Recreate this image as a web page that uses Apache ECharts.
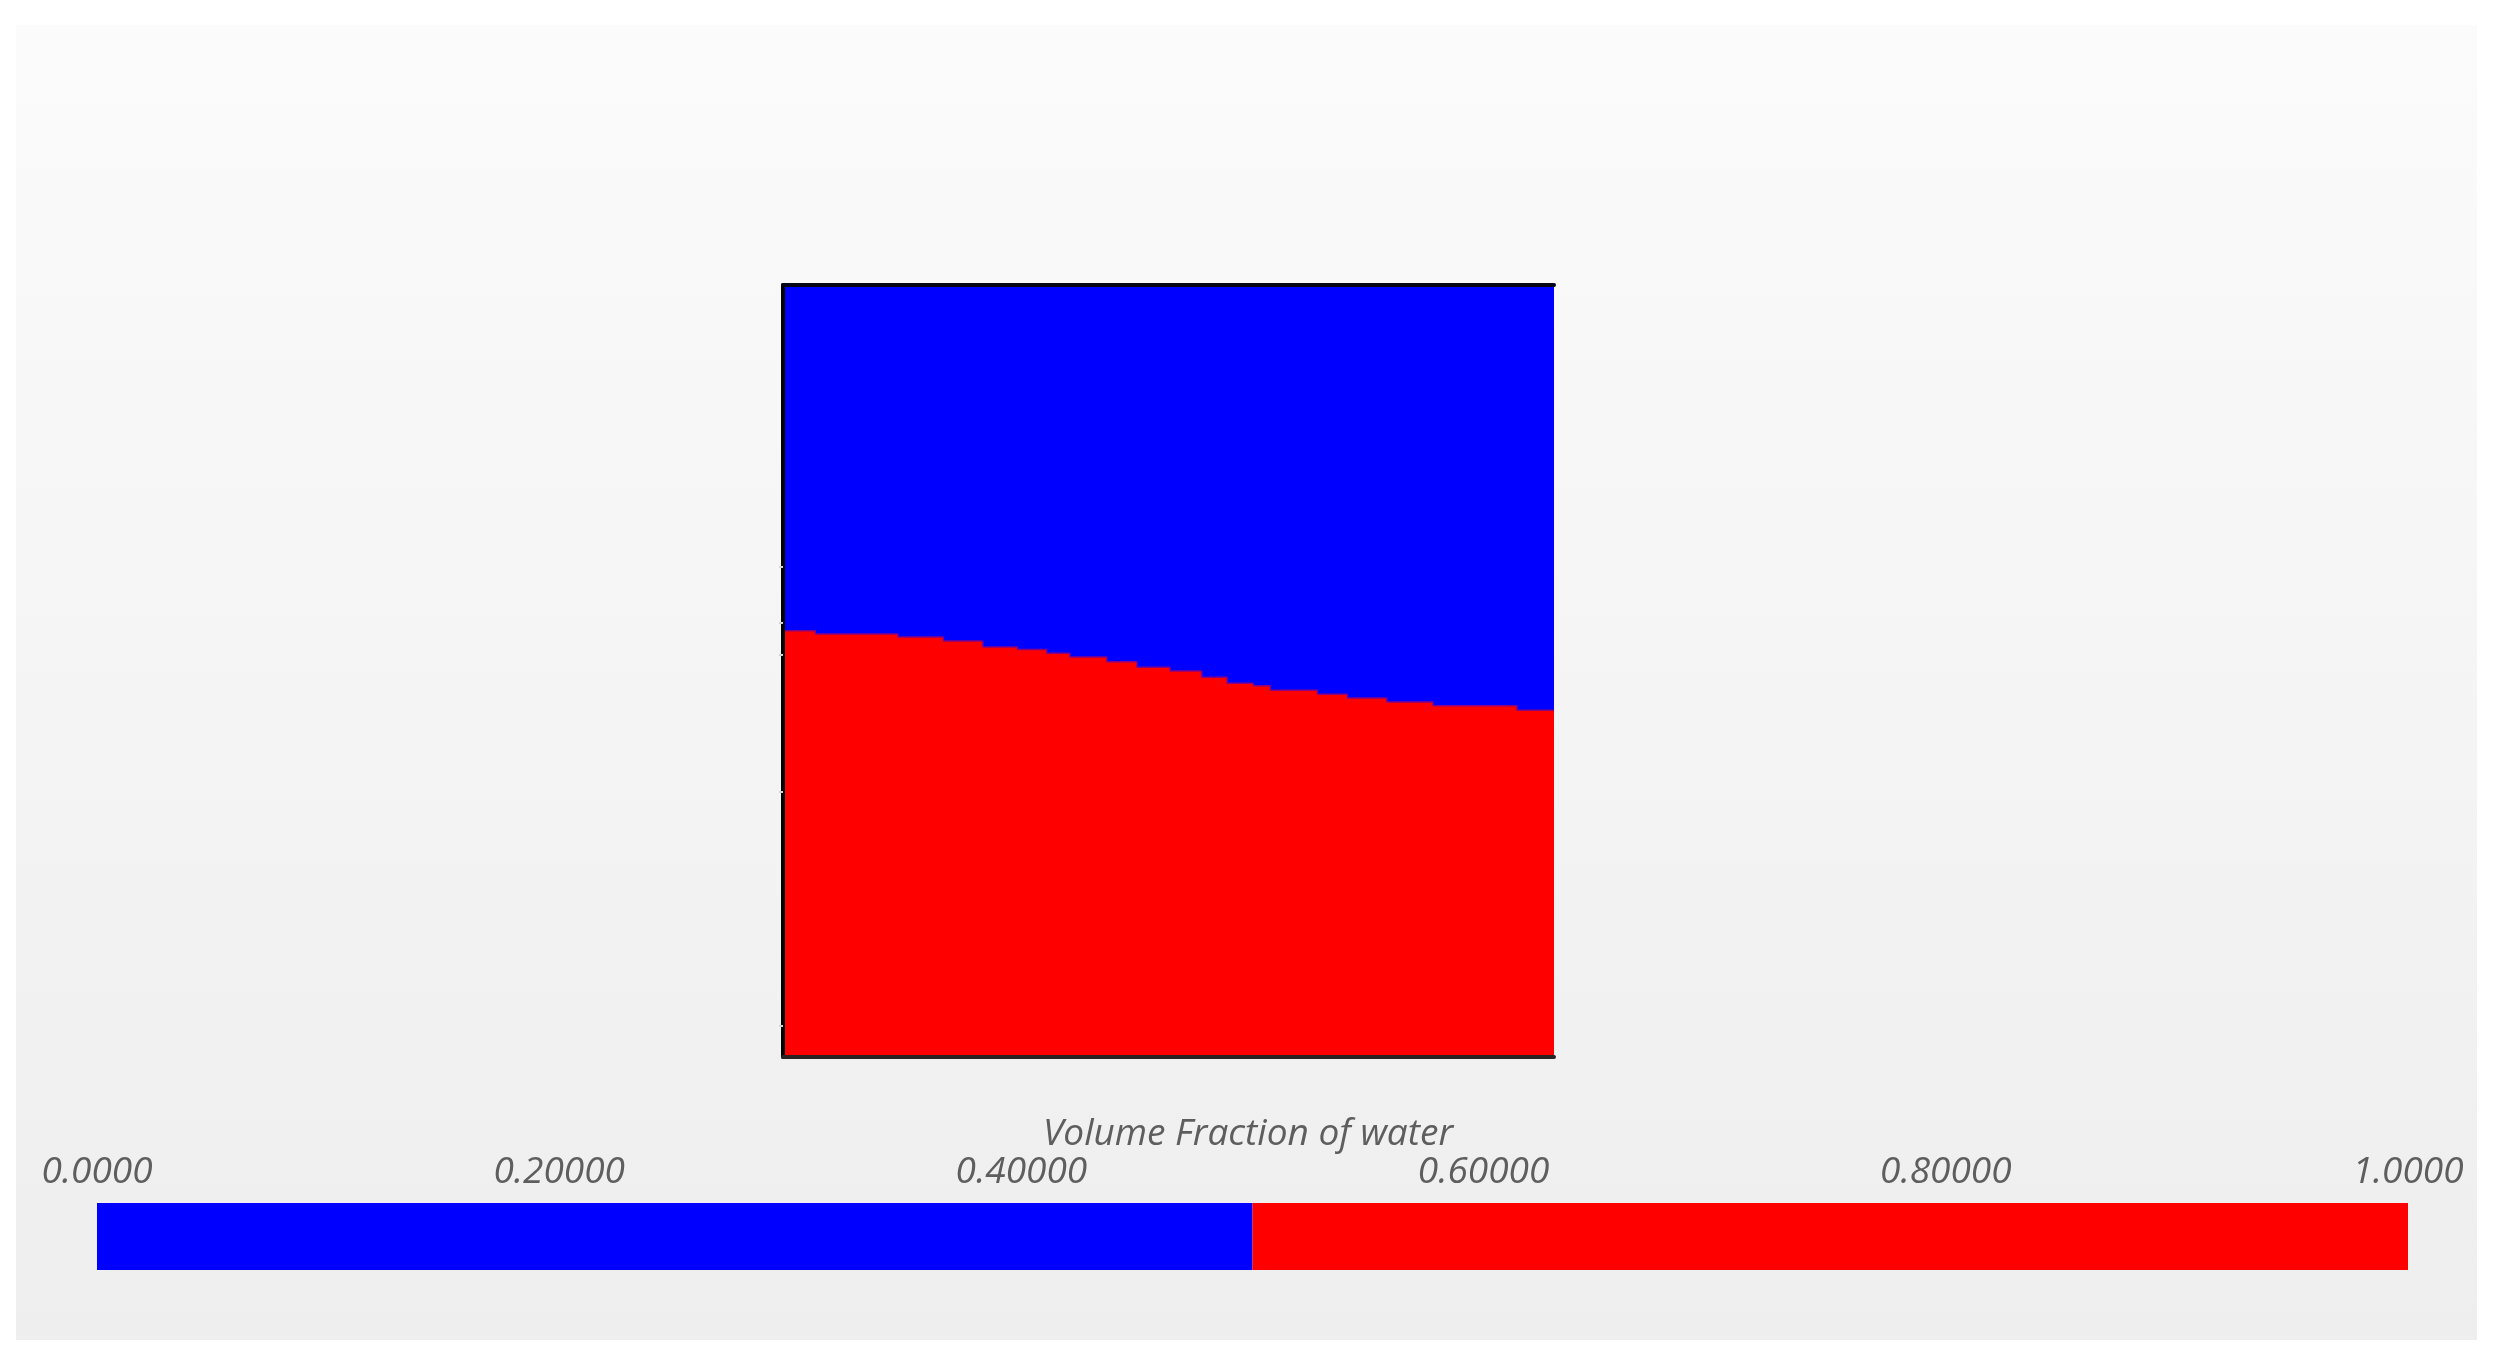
<!DOCTYPE html>
<html>
<head>
<meta charset="utf-8">
<script src="https://cdn.jsdelivr.net/npm/echarts@6/dist/echarts.min.js"></script>
<style>
html,body{margin:0;padding:0;background:#ffffff;}
#chart{width:2497px;height:1363px;}
</style>
</head>
<body>
<div id="chart"></div>
<script>
// Interface between water (red, value 1) and air (blue, value 0): x position of each mesh step and the water height there
const interfaceX = [0, 0.042, 0.149, 0.208, 0.259, 0.304, 0.342, 0.372, 0.420, 0.459, 0.502, 0.543, 0.576, 0.610, 0.632, 0.693, 0.732, 0.783, 0.843, 0.952, 1.0];
const interfaceH = [0.552, 0.548, 0.544, 0.539, 0.531, 0.528, 0.523, 0.518, 0.512, 0.505, 0.500, 0.492, 0.484, 0.481, 0.475, 0.470, 0.465, 0.460, 0.455, 0.449, 0.449];
// Left-edge mesh tick marks
const leftTicks = [0.635, 0.563, 0.521, 0.343, 0.041];
// Colour bar
const colorbarBounds = [0, 0.5, 1.0];
const colorbarColors = ['#0000ff', '#ff0000'];
const colorbarTickLabels = ['0.0000', '0.20000', '0.40000', '0.60000', '0.80000', '1.0000'];
const colorbarTitle = 'Volume Fraction of water';

const interfaceData = interfaceX.map((x, i) => [x, interfaceH[i]]);
const pieceSeries = colorbarColors.map((c, i) => ({
  type: 'bar',
  xAxisIndex: 2,
  yAxisIndex: 1,
  stack: 'cb',
  barWidth: '100%',
  data: [colorbarBounds[i + 1] - colorbarBounds[i]],
  itemStyle: { color: c },
  silent: true
}));

const labelFont = { fontFamily: 'Open Sans', fontStyle: 'italic', fontSize: 37, color: '#5e5e5e' };

const chart = echarts.init(document.getElementById('chart'), null, { renderer: 'canvas' });
chart.setOption({
  animation: false,
  backgroundColor: '#ffffff',
  graphic: [{
    type: 'rect',
    z: -10,
    silent: true,
    shape: { x: 16, y: 25, width: 2461, height: 1315 },
    style: {
      fill: new echarts.graphic.LinearGradient(0, 0, 0, 1, [
        { offset: 0, color: '#fbfbfb' },
        { offset: 1, color: '#eeeeee' }
      ])
    }
  }],
  grid: [
    { left: 783, top: 285, width: 771, height: 772, outerBoundsMode: 'none' },
    { left: 97, top: 1203, width: 2311, height: 67, outerBoundsMode: 'none' }
  ],
  xAxis: [
    { type: 'value', gridIndex: 0, min: 0, max: 1, position: 'bottom', z: 10,
      axisLine: { show: true, lineStyle: { color: '#2a2222', width: 4 } },
      axisTick: { show: false }, axisLabel: { show: false }, splitLine: { show: false } },
    { type: 'value', gridIndex: 0, min: 0, max: 1, position: 'top', z: 10,
      axisLine: { show: true, lineStyle: { color: '#050515', width: 4 } },
      axisTick: { show: false }, axisLabel: { show: false }, splitLine: { show: false } },
    { type: 'value', gridIndex: 1, min: 0, max: 1, interval: 0.2, position: 'top',
      name: colorbarTitle, nameLocation: 'middle', nameGap: 50,
      nameTextStyle: Object.assign({}, labelFont, { padding: [0, 9, 0, 0] }),
      axisLine: { show: false }, axisTick: { show: false }, splitLine: { show: false },
      axisLabel: Object.assign({}, labelFont, {
        margin: 12,
        formatter: v => colorbarTickLabels[Math.round(v / 0.2)]
      }) }
  ],
  yAxis: [
    { type: 'value', gridIndex: 0, min: 0, max: 1, z: 10,
      axisLine: { show: true, lineStyle: { color: '#000000', width: 4 } },
      axisTick: { show: true, customValues: leftTicks, length: 4, lineStyle: { color: '#d4d4d4', width: 2 } },
      axisLabel: { show: false }, splitLine: { show: false } },
    { type: 'category', gridIndex: 1, data: ['bar'], show: false }
  ],
  series: [
    {
      name: 'air', type: 'line', xAxisIndex: 0, yAxisIndex: 0, step: 'end',
      data: interfaceData, showSymbol: false, silent: true,
      lineStyle: { width: 0, opacity: 0 },
      areaStyle: { color: '#0000ff', opacity: 1, origin: 'end' }
    },
    {
      name: 'water', type: 'line', xAxisIndex: 0, yAxisIndex: 0, step: 'end',
      data: interfaceData, showSymbol: false, silent: true,
      lineStyle: { width: 1.5, color: '#8a0080' },
      areaStyle: { color: '#ff0000', opacity: 1, origin: 'start' }
    }
  ].concat(pieceSeries)
});
</script>
</body>
</html>
